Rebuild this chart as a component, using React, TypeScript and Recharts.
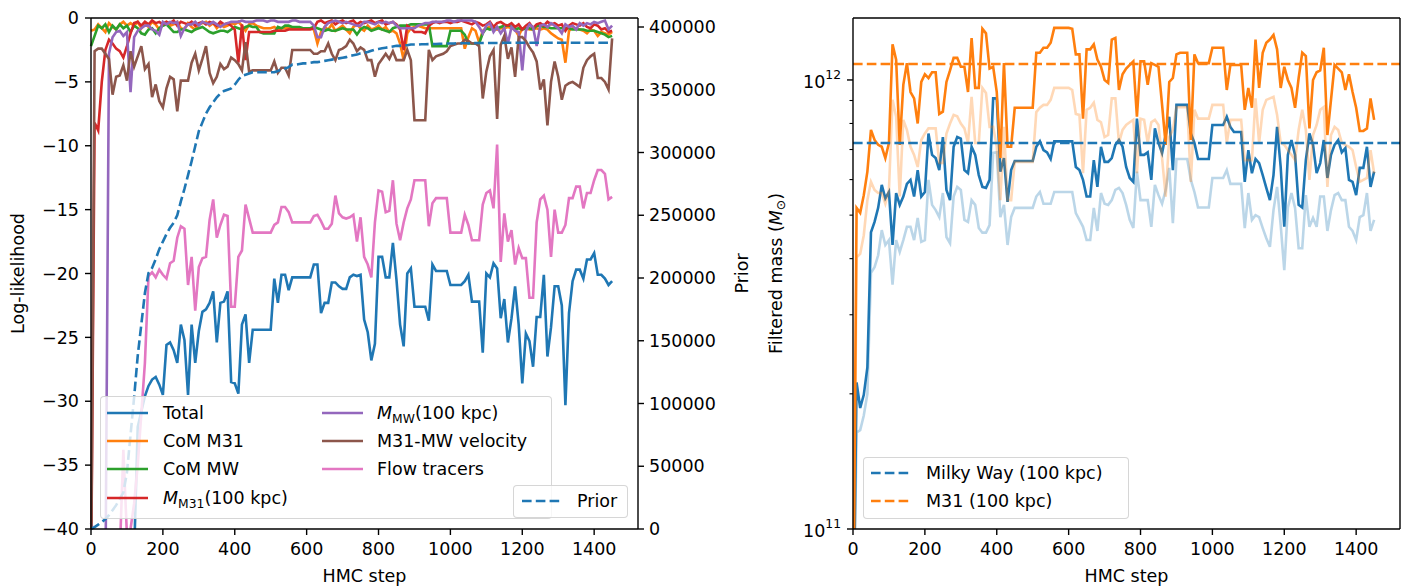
import React from 'react';
import { LineChart, Line, XAxis, YAxis, ReferenceLine } from 'recharts';

// HMC chain diagnostics: log-likelihood terms (left) and filtered masses (right)

const FONT = '"DejaVu Sans", Verdana, sans-serif';
const FS = 17.5;
const LW = 2.6;
const DASH = '9.6 4.2';
const BLUE = '#1f77b4';
const ORANGE = '#ff7f0e';
const GREEN = '#2ca02c';
const RED = '#d62728';
const PURPLE = '#9467bd';
const BROWN = '#8c564b';
const PINK = '#e377c2';

const steps = [
  0, 10, 20, 30, 40, 50, 60, 70, 80, 90,
  100, 110, 120, 130, 140, 150, 160, 170, 180, 190,
  200, 210, 220, 230, 240, 250, 260, 270, 280, 290,
  300, 310, 320, 330, 340, 350, 360, 370, 380, 390,
  400, 410, 420, 430, 440, 450, 460, 470, 480, 490,
  500, 510, 520, 530, 540, 550, 560, 570, 580, 590,
  600, 610, 620, 630, 640, 650, 660, 670, 680, 690,
  700, 710, 720, 730, 740, 750, 760, 770, 780, 790,
  800, 810, 820, 830, 840, 850, 860, 870, 880, 890,
  900, 910, 920, 930, 940, 950, 960, 970, 980, 990,
  1000, 1010, 1020, 1030, 1040, 1050, 1060, 1070, 1080, 1090,
  1100, 1110, 1120, 1130, 1140, 1150, 1160, 1170, 1180, 1190,
  1200, 1210, 1220, 1230, 1240, 1250, 1260, 1270, 1280, 1290,
  1300, 1310, 1320, 1330, 1340, 1350, 1360, 1370, 1380, 1390,
  1400, 1410, 1420, 1430, 1440, 1450,
];

const total = [
  -45, -45, -45, -45, -45, -45, -45, -45, -45, -45,
  -45, -45, -42, -32, -30.8, -29.6, -28.8, -28.3, -28.1, -28.7,
  -29.5, -25.6, -25.4, -26.0, -27.0, -24.0, -25.2, -29.5, -24.0, -27.0,
  -24.5, -23.0, -22.8, -22.3, -21.4, -25.4, -22.3, -22.2, -21.4, -28.5,
  -28.6, -29.4, -24.0, -23.2, -27.0, -24.4, -24.4, -24.4, -24.4, -24.4,
  -24.4, -20.4, -22.3, -20.1, -20.1, -21.3, -20.3, -20.3, -20.3, -20.3,
  -20.3, -20.3, -19.3, -19.3, -23.1, -22.3, -22.3, -20.7, -20.7, -21.0,
  -21.2, -21.2, -20.3, -20.1, -20.2, -20.1, -23.6, -24.6, -26.8, -25.5,
  -18.7, -18.7, -20.3, -20.3, -17.6, -20.5, -24.0, -25.7, -20.0, -19.6,
  -22.6, -22.6, -22.6, -22.6, -23.7, -19.3, -19.8, -19.8, -19.8, -19.8,
  -20.9, -20.9, -20.9, -20.9, -20.6, -20.1, -22.2, -22.2, -22.2, -26.2,
  -20.0, -20.3, -19.2, -19.6, -23.5, -22.0, -25.4, -23.5, -21.0, -24.0,
  -28.6, -24.7, -25.3, -27.3, -23.4, -23.4, -20.1, -26.5, -24.2, -21.0,
  -21.0, -22.5, -30.3, -23.1, -20.6, -19.7, -19.7, -20.4, -18.9, -18.9,
  -18.4, -20.1, -20.1, -20.4, -20.9, -20.6,
];

const comM31 = [
  -1.0, -0.9, -0.5, -0.8, -1.1, -0.4, -0.7, -0.9, -0.5, -0.3,
  -0.6, -0.4, -0.6, -0.3, -0.8, -0.4, -0.7, -0.3, -0.5, -0.9,
  -0.4, -0.3, -0.6, -0.5, -0.3, -0.8, -0.9, -0.4, -0.7, -0.9,
  -0.5, -0.4, -0.3, -0.6, -0.4, -0.8, -0.5, -0.7, -0.6, -0.4,
  -0.5, -0.3, -0.6, -1.0, -0.5, -0.4, -0.6, -0.7, -0.8, -0.8,
  -0.8, -0.7, -0.9, -0.8, -0.8, -0.8, -0.8, -0.8, -0.8, -0.8,
  -0.8, -0.8, -0.9, -2.0, -1.1, -0.7, -0.9, -0.5, -1.0, -0.8,
  -0.6, -0.9, -1.2, -0.7, -0.5, -0.8, -1.0, -0.6, -0.9, -0.8,
  -0.6, -0.9, -0.7, -1.1, -1.0, -1.2, -2.0, -3.3, -1.2, -0.8,
  -0.7, -0.6, -0.7, -0.8, -0.8, -0.8, -0.8, -0.8, -0.8, -0.8,
  -0.8, -0.8, -0.8, -0.8, -2.4, -1.5, -0.8, -1.0, -1.9, -1.0,
  -0.8, -0.7, -0.8, -0.9, -0.8, -0.8, -0.7, -0.8, -0.9, -1.4,
  -0.8, -0.8, -0.9, -0.9, -0.8, -0.9, -0.8, -0.9, -1.2, -1.4,
  -1.6, -1.7, -3.5, -1.0, -0.8, -0.8, -0.9, -1.0, -1.2, -0.9,
  -1.0, -1.4, -1.1, -1.2, -1.3, -1.1,
];

const comMW = [
  -2.2, -1.4, -0.6, -0.8, -0.5, -1.1, -0.6, -0.9, -0.5, -0.8,
  -0.6, -1.1, -0.6, -0.8, -1.2, -1.3, -0.9, -0.8, -1.2, -0.8,
  -0.6, -0.5, -0.8, -1.1, -1.1, -0.9, -0.9, -1.0, -1.1, -0.9,
  -0.8, -0.7, -0.9, -1.1, -1.2, -1.1, -1.0, -1.0, -1.1, -0.9,
  -0.7, -0.8, -0.9, -0.7, -0.6, -0.7, -0.7, -1.1, -1.2, -1.2,
  -1.2, -1.2, -0.7, -0.8, -0.6, -0.6, -0.7, -0.7, -0.7, -0.8,
  -0.8, -0.8, -0.7, -0.8, -0.9, -1.0, -0.9, -1.0, -1.0, -0.9,
  -0.8, -0.9, -0.9, -0.9, -1.3, -0.9, -0.7, -0.8, -1.0, -0.9,
  -0.8, -0.9, -1.0, -1.1, -0.8, -0.7, -0.6, -0.6, -0.6, -0.5,
  -0.5, -0.5, -0.5, -0.5, -0.5, -2.2, -2.2, -2.2, -2.2, -2.2,
  -1.0, -1.0, -1.0, -1.0, -1.3, -2.0, -2.0, -2.0, -2.0, -1.2,
  -0.8, -0.9, -0.8, -0.8, -0.7, -0.6, -0.6, -0.6, -0.9, -0.8,
  -0.9, -0.8, -0.8, -0.9, -0.6, -0.6, -0.7, -0.7, -0.8, -0.8,
  -0.8, -0.8, -0.8, -0.8, -0.9, -0.9, -0.9, -0.9, -1.0, -1.0,
  -1.0, -1.1, -1.2, -1.3, -1.5, -1.4,
];

const massM31 = [
  -45, -8.2, -8.8, -5.0, -2.5, -1.7, -2.0, -2.4, -2.6, -3.1,
  -2.2, -1.2, -0.4, -0.3, -0.6, -0.3, -0.5, -0.2, -0.4, -0.3,
  -0.5, -0.3, -0.4, -0.2, -0.6, -0.3, -0.4, -0.5, -0.3, -0.6,
  -0.4, -0.3, -0.5, -0.3, -0.4, -0.6, -0.3, -0.5, -0.4, -0.6,
  -0.9, -3.5, -0.5, -3.3, -1.1, -1.1, -1.1, -1.1, -1.1, -1.1,
  -1.1, -1.0, -1.0, -1.0, -1.0, -0.9, -0.9, -0.9, -0.9, -0.9,
  -0.9, -0.9, -0.8, -0.3, -0.2, -0.4, -0.3, -0.2, -0.5, -0.3,
  -0.2, -0.4, -0.3, -0.2, -0.5, -0.3, -0.4, -0.3, -0.2, -0.4,
  -0.3, -0.2, -0.5, -0.4, -0.3, -0.5, -0.9, -2.5, -0.6, -0.8,
  -1.1, -1.1, -1.1, -1.2, -0.6, -0.4, -0.3, -0.4, -0.3, -0.3,
  -0.4, -0.3, -0.3, -0.2, -0.3, -0.4, -0.5, -0.3, -0.4, -0.6,
  -0.5, -0.3, -0.7, -0.4, -0.3, -0.5, -0.6, -0.4, -0.7, -0.5,
  -0.9, -0.6, -0.4, -0.8, -0.5, -0.4, -0.6, -0.3, -0.5, -0.4,
  -0.6, -0.5, -1.0, -0.6, -0.4, -0.5, -0.6, -0.4, -0.7, -0.8,
  -0.5, -0.6, -0.9, -0.8, -1.1, -1.0,
];

const massMW = [
  -39.5, -40.5, -42, -44, -45, -2.8, -1.5, -1.1, -1.0, -1.4,
  -1.1, -5.8, -1.5, -1.0, -0.8, -0.6, -0.6, -0.9, -1.0, -1.3,
  -0.3, -0.5, -0.3, -0.4, -0.3, -1.4, -0.8, -0.5, -0.5, -0.3,
  -0.6, -0.3, -0.4, -0.5, -0.3, -0.5, -0.7, -0.5, -0.4, -0.3,
  -0.3, -0.3, -0.2, -0.3, -0.3, -0.3, -0.2, -0.2, -0.2, -0.3,
  -0.2, -0.2, -0.3, -0.3, -0.3, -0.3, -0.2, -0.2, -0.3, -0.3,
  -0.3, -0.3, -0.6, -1.5, -1.5, -0.7, -0.4, -0.3, -0.2, -0.3,
  -0.4, -0.3, -0.4, -0.5, -0.6, -0.6, -0.3, -0.3, -0.4, -0.5,
  -0.3, -0.4, -0.3, -0.4, -0.3, -0.6, -0.8, -0.8, -0.8, -0.8,
  -0.8, -0.6, -0.5, -0.4, -0.4, -0.3, -0.3, -0.3, -0.3, -0.2,
  -0.2, -0.3, -0.2, -0.2, -0.2, -0.2, -0.2, -0.3, -0.7, -1.2,
  -0.6, -0.4, -1.1, -0.7, -1.2, -0.8, -2.0, -0.7, -1.0, -1.1,
  -4.1, -1.0, -0.5, -0.7, -2.2, -0.6, -0.5, -0.7, -0.4, -0.6,
  -0.8, -1.2, -0.5, -0.7, -0.6, -0.9, -0.4, -0.6, -0.4, -0.5,
  -0.3, -0.4, -0.3, -0.2, -0.9, -0.6,
];

const velocity = [
  -45, -2.6, -2.4, -2.4, -2.8, -3.2, -6.0, -4.6, -4.5, -3.7,
  -4.9, -2.6, -3.8, -3.0, -2.2, -4.0, -3.6, -6.2, -5.2, -6.5,
  -7.0, -5.5, -4.6, -4.8, -7.3, -4.9, -4.9, -4.9, -3.5, -2.8,
  -4.1, -3.2, -2.2, -4.3, -5.1, -4.6, -3.6, -4.0, -3.8, -3.1,
  -3.3, -3.6, -4.1, -1.9, -4.2, -4.1, -4.1, -4.1, -4.1, -4.1,
  -4.1, -3.4, -4.3, -3.9, -3.9, -4.5, -2.5, -2.5, -2.5, -2.5,
  -2.5, -2.5, -2.8, -2.8, -2.6, -2.6, -2.0, -2.8, -3.3, -2.5,
  -2.4, -2.2, -1.7, -2.0, -2.6, -2.3, -2.5, -3.3, -3.3, -4.6,
  -3.6, -3.2, -2.8, -3.2, -2.6, -3.3, -3.3, -3.3, -2.5, -3.3,
  -8.0, -8.0, -8.0, -8.0, -2.5, -3.3, -3.0, -2.9, -2.8, -2.6,
  -2.2, -2.1, -2.0, -2.0, -1.7, -1.8, -2.0, -2.0, -2.2, -6.3,
  -4.2, -3.0, -2.5, -7.9, -2.1, -1.4, -3.2, -2.3, -4.6, -1.5,
  -1.5, -1.8, -2.3, -2.7, -3.4, -5.6, -4.8, -8.4, -5.0, -3.4,
  -4.6, -6.4, -5.3, -5.1, -5.0, -5.2, -5.4, -3.9, -3.3, -3.0,
  -2.8, -4.7, -4.7, -5.0, -5.6, -1.6,
];

const flowTracers = [
  -45, -45, -45, -45, -45, -45, -45, -45, -42, -33.8,
  -40.5, -40.0, -38.0, -35.0, -31.0, -27.0, -20.2, -19.9, -20.3, -19.7,
  -20.1, -20.4, -19.2, -19.0, -17.2, -16.3, -16.5, -20.9, -18.7, -22.9,
  -19.5, -18.8, -18.7, -15.8, -14.2, -17.2, -16.2, -15.4, -15.5, -22.6,
  -22.6, -18.7, -18.2, -14.6, -15.7, -16.8, -16.8, -16.8, -16.8, -16.8,
  -16.8, -16.2, -16.0, -14.8, -14.8, -15.2, -16.0, -16.0, -16.0, -16.0,
  -16.0, -16.0, -15.5, -15.4, -15.9, -16.5, -16.5, -16.1, -13.9, -15.3,
  -15.6, -15.7, -15.6, -15.4, -17.5, -15.6, -18.7, -19.3, -20.3, -16.0,
  -13.5, -13.6, -15.2, -15.1, -12.7, -16.1, -17.4, -16.0, -14.9, -14.2,
  -12.7, -12.7, -12.7, -12.7, -16.3, -14.5, -14.1, -14.1, -14.1, -14.1,
  -16.8, -16.8, -16.8, -16.8, -15.4, -16.2, -17.4, -17.4, -17.4, -14.6,
  -13.7, -13.5, -14.9, -9.9, -19.1, -15.3, -17.5, -16.6, -19.3, -18.0,
  -18.8, -18.8, -21.9, -21.9, -16.0, -14.2, -13.9, -15.0, -18.7, -15.0,
  -16.8, -16.8, -16.2, -14.1, -14.1, -13.2, -13.2, -14.9, -13.7, -13.7,
  -12.7, -11.9, -11.9, -12.2, -14.2, -14.0,
];

const prior = [
  0, 1500, 3500, 5500, 8000, 11000, 15000, 19000, 24000, 29000,
  45000, 75000, 105000, 138000, 163000, 188000, 204000, 208000, 215000, 223000,
  229000, 235000, 240000, 244000, 250000, 261000, 271000, 282000, 293000, 305000,
  317000, 324000, 331000, 336000, 340000, 344000, 347000, 349000, 350000, 351000,
  354000, 358000, 361000, 362000, 363000, 364000, 364000, 364000, 364000, 364000,
  364000, 364000, 365000, 366000, 367000, 368000, 370000, 370000, 370500, 371000,
  371000, 371500, 372000, 372000, 372500, 373000, 373500, 374000, 374500, 375000,
  375500, 376000, 377000, 377500, 378000, 379000, 379500, 380000, 381000, 382000,
  382500, 383000, 383500, 384000, 384500, 385000, 385000, 385500, 385500, 386000,
  386000, 386000, 386200, 386300, 386400, 386500, 386500, 386600, 386700, 386800,
  386800, 386900, 387000, 387000, 387000, 387100, 387100, 387200, 387200, 387200,
  387200, 387300, 387300, 387300, 387300, 387400, 387400, 387400, 387400, 387400,
  387500, 387500, 387500, 387500, 387500, 387500, 387500, 387500, 387500, 387500,
  387500, 387500, 387500, 387500, 387500, 387500, 387500, 387500, 387500, 387500,
  387500, 387500, 387500, 387500, 387500, 387500,
];

// filtered masses, in units of 1e11 solar masses
const mwMass = [
  0.5, 2.12, 1.86, 1.99, 2.29, 4.58, 4.83, 5.19, 5.84, 5.45,
  5.63, 4.29, 5.6, 5.27, 5.5, 5.87, 5.99, 5.5, 6.3, 5.5,
  5.63, 7.6, 6.81, 6.7, 6.3, 7.46, 5.69, 5.4, 7.1, 7.46,
  7.4, 6.3, 6.2, 7.1, 6.81, 6.14, 5.78, 5.75, 5.99, 9.1,
  9.1, 6.25, 6.7, 5.35, 6.3, 6.6, 6.6, 6.6, 6.6, 6.6,
  6.6, 7.1, 7.3, 6.98, 6.9, 6.67, 7.3, 7.3, 7.3, 7.3,
  7.3, 7.3, 6.4, 6.3, 5.99, 5.5, 5.5, 6.63, 5.78, 7.1,
  6.57, 6.57, 6.7, 7.17, 7.35, 7.1, 6.4, 6.05, 5.93, 8.2,
  6.81, 6.81, 6.9, 5.99, 7.8, 7.24, 6.87, 7.54, 8.28, 6.3,
  8.8, 8.8, 8.8, 8.8, 7.6, 7.24, 6.67, 6.67, 6.67, 6.67,
  7.94, 7.94, 7.94, 7.94, 8.28, 7.86, 7.66, 7.66, 7.66, 5.93,
  6.98, 6.2, 6.67, 6.53, 6.14, 5.75, 5.4, 6.14, 7.86, 6.4,
  4.71, 6.81, 7.35, 6.81, 5.27, 5.2, 6.63, 7.6, 7.17, 6.2,
  6.53, 7.35, 6.05, 6.81, 7.17, 7.35, 6.9, 7.05, 5.99, 5.93,
  5.54, 6.37, 6.37, 7.1, 5.78, 6.25,
];

const mwMassFaint = [
  0.5, 1.64, 1.66, 1.79, 2.0, 3.72, 3.83, 4.07, 4.63, 4.29,
  4.4, 3.5, 4.4, 4.14, 4.4, 4.71, 4.71, 4.4, 4.93, 4.36,
  4.4, 5.99, 5.27, 5.13, 4.95, 5.6, 4.47, 4.33, 5.5, 5.78,
  5.69, 4.88, 4.83, 5.4, 5.27, 4.68, 4.57, 4.57, 4.75, 6.88,
  6.9, 4.95, 5.27, 4.29, 4.95, 5.19, 5.19, 5.19, 5.19, 5.19,
  5.19, 5.5, 5.63, 5.3, 5.3, 5.3, 5.63, 5.63, 5.63, 5.63,
  5.63, 5.63, 5.05, 4.88, 4.71, 4.4, 4.4, 5.19, 4.61, 5.6,
  5.3, 5.27, 5.4, 5.69, 5.75, 5.6, 5.27, 4.88, 4.68, 6.25,
  5.4, 5.4, 5.4, 4.71, 5.84, 5.54, 5.3, 5.69, 6.37, 4.8,
  6.67, 6.67, 6.67, 6.67, 5.99, 5.63, 5.2, 5.2, 5.2, 5.2,
  6.05, 6.05, 6.05, 6.05, 6.3, 5.87, 5.87, 5.87, 5.87, 4.68,
  5.6, 4.88, 5.0, 4.95, 4.68, 4.44, 4.25, 5.13, 5.78, 4.75,
  3.77, 5.2, 5.6, 5.19, 4.22, 4.22, 5.54, 4.71, 4.93, 4.71,
  5.5, 5.5, 4.61, 5.13, 5.54, 5.6, 5.4, 5.4, 4.71, 4.61,
  4.4, 4.95, 5.0, 5.6, 4.61, 4.88,
];

const m31Mass = [
  0.5, 5.19, 5.06, 5.54, 6.25, 7.74, 7.35, 7.17, 7.1, 6.7,
  7.24, 12.0, 11.1, 7.17, 9.75, 10.9, 9.4, 9.1, 8.0, 9.9,
  10.3, 10.1, 10.4, 10.4, 8.4, 8.5, 9.9, 10.5, 11.2, 11.2,
  10.7, 10.7, 9.4, 12.4, 9.6, 9.6, 13.0, 12.7, 10.6, 10.7,
  9.4, 6.7, 10.9, 7.1, 7.1, 8.67, 8.67, 8.67, 8.67, 8.67,
  8.67, 11.5, 11.5, 11.8, 11.8, 12.1, 13.06, 13.06, 13.06, 13.06,
  13.06, 13.0, 11.4, 11.4, 8.2, 11.7, 11.7, 12.0, 11.1, 10.7,
  10.0, 9.85, 12.3, 12.4, 9.5, 10.3, 10.6, 10.8, 11.0, 8.28,
  11.0, 11.0, 9.75, 10.9, 10.8, 10.7, 8.8, 7.17, 9.9, 10.1,
  11.4, 11.5, 11.5, 11.5, 7.35, 11.4, 10.9, 10.9, 10.9, 10.9,
  11.8, 11.8, 11.8, 11.8, 9.5, 10.8, 10.8, 10.8, 10.8, 8.58,
  9.6, 8.67, 12.3, 9.6, 11.5, 12.1, 12.3, 12.6, 11.7, 9.6,
  10.7, 10.0, 9.6, 8.67, 10.1, 11.5, 11.3, 7.8, 10.0, 10.4,
  10.5, 11.8, 7.54, 9.03, 10.8, 10.6, 10.4, 9.5, 10.3, 9.4,
  8.67, 7.7, 7.7, 7.8, 9.1, 8.15,
];

const m31MassFaint = [
  0.5, 4.03, 4.1, 4.51, 5.4, 5.93, 5.69, 5.6, 5.6, 5.3,
  5.69, 9.03, 8.28, 5.5, 8.15, 7.74, 7.1, 6.81, 6.4, 7.35,
  7.6, 7.8, 7.8, 7.8, 6.53, 6.53, 7.6, 8.0, 8.36, 8.3,
  8.0, 7.8, 7.24, 9.17, 7.24, 7.24, 9.6, 9.35, 7.86, 7.86,
  7.1, 5.4, 7.86, 5.4, 5.4, 6.57, 6.57, 6.57, 6.57, 6.57,
  6.57, 8.48, 8.67, 8.8, 8.8, 9.03, 9.6, 9.6, 9.6, 9.6,
  9.6, 9.5, 8.4, 8.36, 6.2, 8.58, 8.67, 8.9, 8.15, 8.05,
  7.46, 7.54, 9.1, 9.1, 7.24, 7.74, 7.94, 8.05, 8.15, 6.2,
  8.2, 8.15, 7.24, 8.05, 8.15, 7.94, 6.7, 5.5, 7.46, 7.74,
  8.7, 8.7, 8.7, 8.7, 5.93, 8.58, 8.2, 8.2, 8.2, 8.2,
  8.8, 8.8, 8.8, 8.8, 7.24, 8.15, 8.15, 8.15, 8.15, 6.63,
  6.63, 6.63, 9.1, 7.24, 8.58, 9.03, 9.1, 9.17, 8.36, 7.24,
  7.17, 6.98, 6.81, 6.63, 7.74, 8.58, 7.74, 5.99, 7.54, 7.94,
  8.58, 8.7, 5.78, 7.54, 7.86, 7.74, 7.24, 7.17, 7.1, 6.98,
  6.4, 5.93, 5.99, 6.05, 6.98, 6.2,
];

const mwReference = 7.24e11;
const m31Reference = 1.085e12;

const stepTicks = [0, 200, 400, 600, 800, 1000, 1200, 1400];
const llTicks = [-40, -35, -30, -25, -20, -15, -10, -5, 0];
const priorTicks = [0, 50000, 100000, 150000, 200000, 250000, 300000, 350000, 400000];
const massTicks = [1e11, 2e11, 3e11, 4e11, 5e11, 6e11, 7e11, 8e11, 9e11, 1e12];

const leftData = steps.map((step, i) => ({
  step,
  total: total[i],
  comM31: comM31[i],
  comMW: comMW[i],
  massM31: massM31[i],
  massMW: massMW[i],
  velocity: velocity[i],
  flow: flowTracers[i],
  prior: prior[i],
}));

const rightData = steps.map((step, i) => ({
  step,
  mw: mwMass[i] * 1e11,
  mwFaint: mwMassFaint[i] * 1e11,
  m31: m31Mass[i] * 1e11,
  m31Faint: m31MassFaint[i] * 1e11,
}));

const spine = { stroke: '#000', strokeWidth: 1.4 };
const tickStyle = { fill: '#000', fontSize: FS };
const minus = (v: number) => (v < 0 ? `\u2212${Math.abs(v)}` : String(v));

function RotLabel(props: any) {
  const { viewBox, dx, children } = props;
  const cx = viewBox.x + dx;
  const cy = viewBox.y + viewBox.height / 2;
  return (
    <text x={cx} y={cy} transform={`rotate(-90 ${cx} ${cy})`} textAnchor="middle"
      dominantBaseline="central" fontSize={FS} fill="#000">
      {children}
    </text>
  );
}

function MassTick(props: any) {
  const { x, y, payload } = props;
  const v = payload.value;
  const exp = v === 1e11 ? '11' : v === 1e12 ? '12' : null;
  const edge = x + 12;
  return (
    <g>
      <line x1={edge - (exp ? 6 : 3.5)} x2={edge} y1={y} y2={y} stroke="#000" strokeWidth={exp ? 1.4 : 1.1} />
      {exp && (
        <text x={x} y={y + 8} textAnchor="end" fontSize={FS} fill="#000">
          10<tspan dy={-9} fontSize={12.3}>{exp}</tspan>
        </text>
      )}
    </g>
  );
}

function Handle({ color, dashed, left, top }: any) {
  return (
    <svg width={41} height={6} style={{ position: 'absolute', left, top: top - 3 }}>
      <line x1={0} y1={3} x2={41} y2={3} stroke={color} strokeWidth={LW}
        strokeDasharray={dashed ? DASH : undefined} />
    </svg>
  );
}

function Entry({ color, dashed, hx, tx, cy, children }: any) {
  return (
    <>
      <Handle color={color} dashed={dashed} left={hx} top={cy} />
      <div style={{ position: 'absolute', left: tx, top: cy - 11, height: 22, lineHeight: '22px', whiteSpace: 'nowrap', fontSize: FS }}>
        {children}
      </div>
    </>
  );
}

const Sub = ({ children }: any) => (
  <span style={{ fontSize: 12.3, position: 'relative', top: 4 }}>{children}</span>
);

const boxStyle = (left: number, top: number, width: number, height: number): React.CSSProperties => ({
  position: 'absolute', left, top, width, height, boxSizing: 'border-box',
  background: 'rgba(255,255,255,0.8)', border: '1.5px solid rgba(204,204,204,0.8)', borderRadius: 4,
});

export default function App() {
  return (
    <div style={{ position: 'absolute', left: 0, top: 0, width: 1407, height: 587, background: '#fff', fontFamily: FONT, color: '#000' }}>
      <div style={{ position: 'absolute', left: 0, top: 0 }}>
        <LineChart width={760} height={587} data={leftData} margin={{ top: 17, right: 0, bottom: 0, left: 0 }}
          style={{ fontFamily: FONT, fontSize: FS }}>
          <XAxis dataKey="step" type="number" domain={[0, 1522]} ticks={stepTicks} interval={0} height={58}
            axisLine={spine} tickLine={spine} tickSize={6} tickMargin={8} tick={tickStyle}
            label={{ value: 'HMC step', position: 'insideBottom', offset: 5, fill: '#000', fontSize: FS }} />
          <XAxis xAxisId="top" orientation="top" dataKey="step" type="number" domain={[0, 1522]} height={1}
            tick={false} tickLine={false} axisLine={spine} />
          <YAxis yAxisId="ll" type="number" domain={[-40, 0]} allowDataOverflow ticks={llTicks} interval={0}
            width={91} axisLine={spine} tickLine={spine} tickSize={6} tickMargin={6} tick={tickStyle}
            tickFormatter={minus} label={<RotLabel dx={18}>Log-likelihood</RotLabel>} />
          <YAxis yAxisId="prior" orientation="right" type="number" domain={[0, 407171]} ticks={priorTicks} interval={0}
            width={122} axisLine={spine} tickLine={spine} tickSize={6} tickMargin={5} tick={tickStyle}
            label={<RotLabel dx={104}>Prior</RotLabel>} />
          <Line yAxisId="ll" dataKey="total" stroke={BLUE} strokeWidth={LW} dot={false} isAnimationActive={false} />
          <Line yAxisId="ll" dataKey="comM31" stroke={ORANGE} strokeWidth={LW} dot={false} isAnimationActive={false} />
          <Line yAxisId="ll" dataKey="comMW" stroke={GREEN} strokeWidth={LW} dot={false} isAnimationActive={false} />
          <Line yAxisId="ll" dataKey="massM31" stroke={RED} strokeWidth={LW} dot={false} isAnimationActive={false} />
          <Line yAxisId="ll" dataKey="massMW" stroke={PURPLE} strokeWidth={LW} dot={false} isAnimationActive={false} />
          <Line yAxisId="ll" dataKey="velocity" stroke={BROWN} strokeWidth={LW} dot={false} isAnimationActive={false} />
          <Line yAxisId="ll" dataKey="flow" stroke={PINK} strokeWidth={LW} dot={false} isAnimationActive={false} />
          <Line yAxisId="prior" dataKey="prior" stroke={BLUE} strokeWidth={LW} strokeDasharray={DASH} dot={false} isAnimationActive={false} />
        </LineChart>
      </div>

      <div style={{ position: 'absolute', left: 760, top: 0 }}>
        <LineChart width={647} height={587} data={rightData} margin={{ top: 17, right: 6, bottom: 0, left: 0 }}
          style={{ fontFamily: FONT, fontSize: FS }}>
          <XAxis dataKey="step" type="number" domain={[0, 1522]} ticks={stepTicks} interval={0} height={58}
            axisLine={spine} tickLine={spine} tickSize={6} tickMargin={8} tick={tickStyle}
            label={{ value: 'HMC step', position: 'insideBottom', offset: 5, fill: '#000', fontSize: FS }} />
          <XAxis xAxisId="top" orientation="top" dataKey="step" type="number" domain={[0, 1522]} height={1}
            tick={false} tickLine={false} axisLine={spine} />
          <YAxis type="number" scale="log" domain={[1e11, 1.374e12]} allowDataOverflow ticks={massTicks} interval={0}
            width={93} axisLine={spine} tickLine={false} tickSize={6} tickMargin={6} tick={<MassTick />}
            label={
              <RotLabel dx={16}>
                Filtered mass (<tspan fontStyle="italic">M</tspan><tspan dy={5} fontSize={12.3}>⊙</tspan><tspan dy={-5}>)</tspan>
              </RotLabel>
            } />
          <YAxis yAxisId="frame" orientation="right" type="number" domain={[0, 1]} width={1}
            tick={false} tickLine={false} axisLine={spine} />
          <Line dataKey="mw" stroke={BLUE} strokeWidth={LW} dot={false} isAnimationActive={false} />
          <Line dataKey="mwFaint" stroke={BLUE} strokeOpacity={0.3} strokeWidth={LW} dot={false} isAnimationActive={false} />
          <Line dataKey="m31" stroke={ORANGE} strokeWidth={LW} dot={false} isAnimationActive={false} />
          <Line dataKey="m31Faint" stroke={ORANGE} strokeOpacity={0.3} strokeWidth={LW} dot={false} isAnimationActive={false} />
          <ReferenceLine y={mwReference} stroke={BLUE} strokeWidth={LW} strokeDasharray={DASH} />
          <ReferenceLine y={m31Reference} stroke={ORANGE} strokeWidth={LW} strokeDasharray={DASH} />
        </LineChart>
      </div>

      {/* left legend */}
      <div style={boxStyle(100, 396, 452, 123)} />
      <Entry color={BLUE} hx={107} tx={163} cy={413}>Total</Entry>
      <Entry color={ORANGE} hx={107} tx={163} cy={441}>CoM M31</Entry>
      <Entry color={GREEN} hx={107} tx={163} cy={469}>CoM MW</Entry>
      <Entry color={RED} hx={107} tx={163} cy={498}><i>M</i><Sub>M31</Sub>(100 kpc)</Entry>
      <Entry color={PURPLE} hx={322} tx={377} cy={413}><i>M</i><Sub>MW</Sub>(100 kpc)</Entry>
      <Entry color={BROWN} hx={322} tx={377} cy={441}>M31-MW velocity</Entry>
      <Entry color={PINK} hx={322} tx={377} cy={469}>Flow tracers</Entry>

      <div style={boxStyle(513, 485, 115, 33)} />
      <Entry color={BLUE} dashed hx={522} tx={577} cy={501}>Prior</Entry>

      {/* right legend */}
      <div style={boxStyle(863, 457, 266, 62)} />
      <Entry color={BLUE} dashed hx={871} tx={926} cy={473}>Milky Way (100 kpc)</Entry>
      <Entry color={ORANGE} dashed hx={871} tx={926} cy={501}>M31 (100 kpc)</Entry>
    </div>
  );
}
